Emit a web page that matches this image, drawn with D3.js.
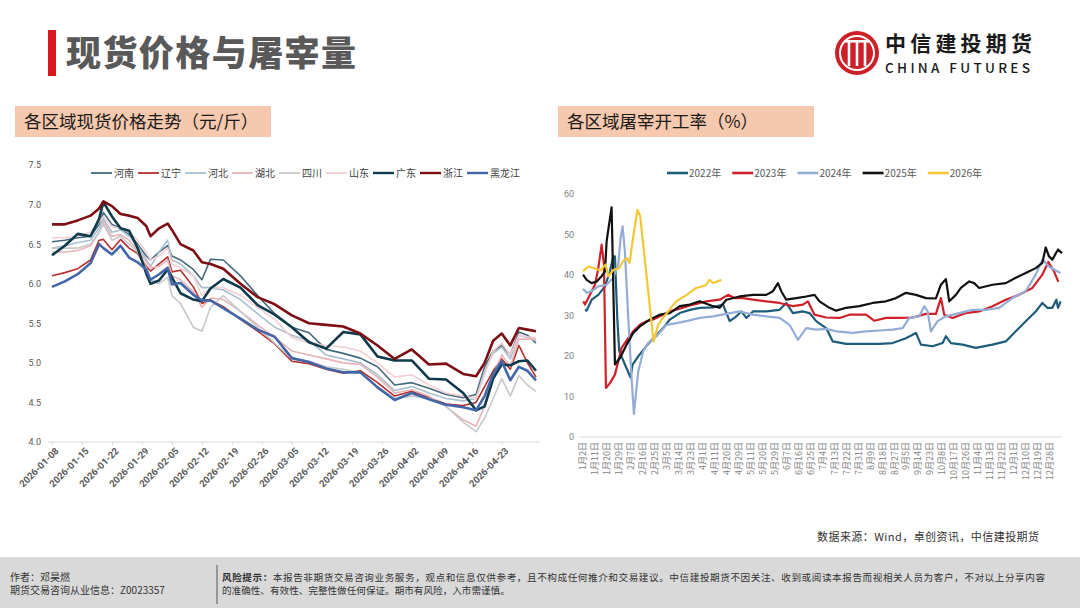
<!DOCTYPE html>
<html>
<head>
<meta charset="utf-8">
<script src="https://cdn.jsdelivr.net/npm/d3@7"></script>
<style>
  body { margin: 0; background: #fff; }
  svg { display: block; font-family: "Noto Sans CJK SC", "Noto Sans", sans-serif; }
</style>
</head>
<body>
<svg id="chart" width="1080" height="608"></svg>
<script>
// ---- left chart: spot prices by region (yuan / jin) ----
const priceDates = ["2026-01-08","2026-01-11","2026-01-14","2026-01-17","2026-01-19","2026-01-20","2026-01-22",
  "2026-01-24","2026-01-26","2026-01-28","2026-01-30","2026-01-31","2026-02-02","2026-02-04","2026-02-05",
  "2026-02-07","2026-02-10","2026-02-12","2026-02-14","2026-02-17","2026-02-21","2026-02-25","2026-03-01",
  "2026-03-05","2026-03-09","2026-03-13","2026-03-17","2026-03-21","2026-03-25","2026-03-29","2026-04-02",
  "2026-04-06","2026-04-10","2026-04-14","2026-04-17","2026-04-19","2026-04-21","2026-04-23","2026-04-25",
  "2026-04-27","2026-04-29","2026-05-01"];

const henan    = [6.53,6.55,6.58,6.60,6.75,6.90,6.75,6.70,6.62,6.50,6.35,6.30,6.40,6.48,6.35,6.30,6.18,6.05,6.31,6.30,6.10,5.85,5.62,5.45,5.38,5.17,5.12,5.06,4.95,4.72,4.75,4.68,4.60,4.56,4.60,4.95,5.15,5.22,5.10,5.39,5.35,5.25];
const liaoning = [6.10,6.14,6.19,6.30,6.55,6.56,6.43,6.56,6.45,6.38,6.22,6.16,6.25,6.34,6.15,6.17,5.96,5.75,5.79,5.71,5.55,5.40,5.24,5.02,4.99,4.92,4.87,4.90,4.75,4.58,4.64,4.56,4.48,4.46,4.50,4.70,4.90,5.05,4.92,5.22,5.00,4.82];
const hebei    = [6.45,6.48,6.52,6.55,6.70,6.82,6.65,6.68,6.60,6.48,6.30,6.22,6.40,6.55,6.30,6.25,6.10,5.95,5.95,5.92,5.80,5.62,5.45,5.35,5.28,5.10,5.05,5.00,4.85,4.65,4.70,4.62,4.55,4.52,4.55,4.90,5.12,5.20,5.05,5.35,5.32,5.28];
const hubei    = [6.40,6.40,6.42,6.48,6.65,6.78,6.60,6.62,6.55,6.42,6.28,6.20,6.22,6.30,6.10,6.05,5.90,5.70,5.82,5.80,5.65,5.48,5.32,5.15,5.10,5.05,5.00,4.98,4.82,4.62,4.66,4.58,4.45,4.28,4.20,4.45,4.85,5.10,4.95,5.30,5.30,5.30];
const sichuan  = [6.45,6.45,6.45,6.50,6.65,6.75,6.55,6.60,6.50,6.40,6.20,6.05,6.00,6.08,5.85,5.75,5.45,5.40,5.70,5.85,5.65,5.45,5.25,5.05,5.02,4.95,4.92,4.88,4.70,4.55,4.58,4.55,4.45,4.25,4.13,4.30,4.55,4.80,4.58,4.84,4.72,4.64];
const shandong = [6.58,6.58,6.60,6.65,6.78,6.85,6.72,6.70,6.65,6.55,6.40,6.30,6.35,6.45,6.25,6.20,6.10,5.85,5.95,5.95,5.85,5.70,5.55,5.32,5.25,5.22,5.20,5.15,5.00,4.82,4.85,4.72,4.62,4.58,4.55,4.85,5.15,5.25,5.10,5.35,5.33,5.32];
const guangdong= [6.36,6.48,6.63,6.60,6.82,7.03,6.85,6.70,6.67,6.45,6.13,6.00,6.04,6.18,6.08,5.88,5.80,5.78,5.94,6.06,5.95,5.73,5.61,5.45,5.26,5.18,5.39,5.36,5.08,5.03,5.03,4.80,4.79,4.62,4.40,4.45,4.80,4.98,4.97,5.02,5.03,4.90];
const zhejiang = [6.75,6.75,6.80,6.86,6.95,7.04,6.98,6.88,6.86,6.83,6.73,6.60,6.70,6.76,6.68,6.50,6.42,6.27,6.25,6.19,6.00,5.83,5.74,5.60,5.50,5.48,5.46,5.37,5.22,5.05,5.17,4.98,4.99,4.86,4.83,5.00,5.28,5.37,5.22,5.44,5.42,5.40];
const heilongjiang = [5.96,6.03,6.12,6.26,6.50,6.45,6.37,6.48,6.33,6.27,6.18,6.05,6.12,6.20,5.99,6.01,5.86,5.79,5.79,5.69,5.56,5.42,5.33,5.06,5.01,4.93,4.88,4.88,4.69,4.53,4.62,4.54,4.47,4.44,4.40,4.58,4.86,5.02,4.78,4.95,4.90,4.78];

const regionNames = ["河南","辽宁","河北","湖北","四川","山东","广东","浙江","黑龙江"];
const priceTickLabels = ["2026-01-08","2026-01-15","2026-01-22","2026-01-29","2026-02-05","2026-02-12","2026-02-19",
  "2026-02-26","2026-03-05","2026-03-12","2026-03-19","2026-03-26","2026-04-02","2026-04-09","2026-04-16","2026-04-23"];
const priceYTicks = [4.0,4.5,5.0,5.5,6.0,6.5,7.0,7.5];

// ---- right chart: slaughter operating rate (%) by year, [category index, value] ----
const rate2022 = [[1.5,31.4],[2.75,31.2],[6.5,33.9],[11.5,35.1],[16.5,37.2],[20.25,40.9],[22.75,44.6],[24,44.6],[25.75,29.4],[27.25,21.2],[31.5,17.9],[35.75,14.7],[37.25,17.9],[41.5,19.9],[46.5,22.0],[52.75,24.4],[60.25,26.9],[65.25,29.0],[72.75,30.6],[80.25,31.4],[87.75,31.9],[97.75,32.0],[105.25,32.7],[110.25,28.6],[115.25,29.8],[119,31.0],[122.75,29.4],[127.75,31.0],[137.75,31.0],[147.75,31.4],[152.75,33.1],[157.75,30.6],[165.25,31.0],[170.25,30.6],[175.25,28.6],[182.75,26.9],[187.75,23.6],[197.75,23.0],[207.75,23.0],[222.75,23.0],[232.75,23.2],[242.75,24.4],[250.25,25.7],[254,22.8],[262.75,22.4],[270.25,23.2],[272.75,24.9],[276.5,23.2],[285.25,22.8],[295.25,22.0],[307.75,22.8],[317.75,23.6],[325.25,26.1],[332.75,28.6],[340.25,31.0],[345.25,33.1],[349,31.9],[352.75,31.9],[355.75,33.9],[357,31.9],[359,33.5]];
const rate2023 = [[0.25,33.5],[1.5,32.7],[5.25,35.1],[9,37.6],[11.5,41.7],[14,47.5],[15.75,42.6],[17.25,12.1],[20.25,13.3],[24,15.4],[29,22.0],[34,24.4],[37.75,26.1],[42.75,27.7],[47.75,28.6],[52.75,29.0],[57.75,29.8],[65.25,31.0],[72.75,31.7],[82.75,32.7],[92.75,33.5],[102.75,33.9],[109,35.1],[114,34.3],[120.25,34.3],[127.75,33.9],[137.75,33.5],[147.75,33.1],[157.75,32.3],[165.25,32.7],[169,33.5],[174,30.2],[182.75,29.5],[192.75,29.4],[200.25,30.2],[212.75,30.2],[219,28.7],[227.75,29.4],[237.75,29.4],[247.75,29.5],[257.75,30.4],[265.25,30.4],[269,34.3],[271.5,30.2],[277.75,29.4],[287.75,30.6],[297.75,31.0],[307.75,32.3],[317.75,33.9],[327.75,35.1],[337.75,36.8],[345.25,40.1],[349.75,43.2],[354,40.9],[357.25,38.3]];
const rate2024 = [[0,36.6],[2.75,35.6],[6.5,36.0],[11.5,37.2],[17.75,37.6],[22.75,39.3],[26.5,42.6],[28.25,49.1],[29.75,52.0],[31.5,45.8],[34,29.4],[36.5,14.6],[38.25,5.7],[41.5,16.2],[45.25,21.2],[49,23.2],[55.25,24.9],[62.75,27.7],[70.25,28.1],[77.75,28.6],[87.75,29.4],[97.75,29.8],[107.75,30.4],[117.75,31.0],[127.75,30.2],[137.75,29.8],[147.75,29.4],[155.25,27.7],[161.5,24.0],[167.75,26.9],[175.25,26.5],[182.75,26.7],[190.25,26.1],[202.75,25.7],[212.75,26.1],[222.75,26.3],[232.75,26.5],[240.25,26.9],[245.25,29.4],[252.75,29.8],[256.5,32.3],[259,31.0],[261.5,26.1],[266.5,28.6],[272.75,29.8],[282.75,30.6],[292.75,31.4],[302.75,31.4],[312.75,31.9],[322.75,34.3],[332.75,36.0],[340.25,40.1],[345.25,43.8],[350.25,42.1],[355.25,41.1],[359,40.5]];
const rate2025 = [[0,40.1],[2.75,38.8],[6.5,38.0],[10.25,38.4],[14,39.7],[16.5,40.9],[17.75,48.3],[19.75,52.8],[21.5,56.7],[22.75,37.6],[24,17.9],[27.75,19.5],[32.75,22.8],[37.75,25.7],[42.75,27.3],[50.25,29.0],[57.75,30.2],[65.25,30.6],[72.75,32.3],[80.25,32.7],[87.75,33.5],[97.75,32.3],[102.75,31.9],[107.75,33.9],[117.75,34.7],[127.75,35.1],[137.75,35.1],[142.75,36.0],[146.5,38.0],[149,36.0],[152.75,33.9],[160.25,34.3],[167.75,34.7],[174,35.1],[177.75,33.5],[185.25,31.9],[190.25,31.2],[197.75,31.9],[207.75,32.3],[217.75,33.1],[227.75,33.5],[235.25,34.3],[242.75,35.6],[250.25,35.1],[257.75,34.3],[265.25,34.2],[269,37.6],[272.75,39.0],[275.25,33.5],[280.25,35.1],[284,36.8],[290.25,38.4],[294,38.0],[297.75,36.8],[307.75,37.6],[317.75,38.0],[325.25,39.3],[332.75,40.5],[340.25,41.7],[345.25,43.0],[347.75,46.8],[350.25,44.6],[352.75,43.8],[357,46.3],[360,45.4]];
const rate2026 = [[0,40.9],[4,42.1],[9,41.6],[13,41.1],[17,42.6],[19,39.7],[23,41.3],[27,41.6],[30,43.4],[33,44.2],[35,43.0],[38,50.0],[41,56.1],[43,54.5],[53,23.6],[56.5,27.7],[60,29.4],[65,31.4],[70,33.5],[78,35.1],[85,36.8],[92,37.4],[95,38.8],[98,38.0],[104,38.8]];

const yearNames = ["2022年","2023年","2024年","2025年","2026年"];
const rateCatLabels = ["1月2日","1月11日","1月20日","1月29日","2月7日","2月16日","2月25日","3月5日","3月14日","3月23日",
  "4月1日","4月11日","4月20日","4月29日","5月11日","5月20日","5月29日","6月7日","6月16日","6月25日",
  "7月4日","7月13日","7月22日","7月31日","8月9日","8月18日","8月27日","9月5日","9月14日","9月23日",
  "10月8日","10月17日","10月26日","11月4日","11月13日","11月22日","12月1日","12月10日","12月19日","12月28日"];
const rateYTicks = [0,10,20,30,40,50,60];

const svg = d3.select('#chart');

// ---- page header ----
svg.append('rect').attr('x', 48).attr('y', 30).attr('width', 8).attr('height', 46).style('fill', '#D7191F');
svg.append('text').attr('x', 66).attr('y', 66).text('现货价格与屠宰量')
  .attr('textLength', 290).style('font-size', '35px').style('font-weight', 900).style('fill', '#595959');

// logo
const logo = svg.append('g');
logo.append('circle').attr('cx', 857).attr('cy', 53).attr('r', 22).style('fill', '#CC1F26');
logo.append('circle').attr('cx', 857).attr('cy', 53).attr('r', 17).style('fill', 'none')
  .style('stroke', '#fff').style('stroke-width', 2);
[849, 857, 865].forEach(x => {
  logo.append('rect').attr('x', x - 1.3).attr('y', 41).attr('width', 2.6).attr('height', 25).style('fill', '#fff');
});
logo.append('rect').attr('x', 845).attr('y', 40).attr('width', 24).attr('height', 2.6).style('fill', '#fff');
svg.append('text').attr('x', 885).attr('y', 51).text('中信建投期货')
  .attr('textLength', 147).style('font-size', '21px').style('font-weight', 700).style('fill', '#1a1a1a');
svg.append('text').attr('x', 885).attr('y', 73).text('CHINA FUTURES')
  .attr('textLength', 145).style('font-size', '13.5px').style('font-weight', 500).style('fill', '#1a1a1a');

// section title boxes
[[15, '各区域现货价格走势（元/斤）'], [558, '各区域屠宰开工率（%）']].forEach(([x, t]) => {
  svg.append('rect').attr('x', x).attr('y', 106).attr('width', 256).attr('height', 31).style('fill', '#F6C8AE');
  svg.append('text').attr('x', x + 9).attr('y', 128).text(t)
    .style('font-size', '17.5px').style('fill', '#1a1a1a');
});

// ---- left chart ----
const parse = d3.timeParse('%Y-%m-%d');
const priceX = d3.scaleTime().domain([parse('2026-01-08'), parse('2026-05-01')]).range([52, 536]);
const priceY = d3.scaleLinear().domain([4, 7.5]).range([442, 165]);

const left = svg.append('g');
left.append('line').attr('x1', 48).attr('x2', 540).attr('y1', 442).attr('y2', 442)
  .style('stroke', '#D9D9D9').style('stroke-width', 1);

const yAxisL = left.append('g').attr('transform', 'translate(44,0)')
  .call(d3.axisLeft(priceY).tickValues(priceYTicks).tickFormat(d3.format('.1f')).tickSize(0).tickPadding(3));
yAxisL.select('.domain').remove();
yAxisL.selectAll('text').style('font-size', '9px').style('fill', '#595959').style('font-family', 'Roboto, sans-serif');

const xAxisL = left.append('g').attr('transform', 'translate(0,442)')
  .call(d3.axisBottom(priceX).tickValues(priceTickLabels.map(parse))
    .tickFormat(d3.timeFormat('%Y-%m-%d')).tickSize(3));
xAxisL.select('.domain').remove();
xAxisL.selectAll('line').style('stroke', '#D9D9D9');
xAxisL.selectAll('text')
  .attr('transform', 'rotate(-45)').attr('text-anchor', 'end')
  .attr('dx', '-0.2em').attr('dy', '0.6em')
  .style('font-size', '9.5px').style('font-weight', 700).style('fill', '#595959')
  .style('font-family', 'Roboto, sans-serif');

const priceSeries = [henan, liaoning, hebei, hubei, sichuan, shandong, guangdong, zhejiang, heilongjiang];
const priceColors = ['#44697D', '#B5302F', '#A9BFD0', '#E8B4B8', '#C6CACD', '#F2CFD2', '#0F3A4C', '#7D0F14', '#4366A8'];
const priceWidths = [1.6, 1.6, 1.6, 1.6, 1.6, 1.6, 2.6, 2.6, 2.6];
const priceLine = d3.line().x((d, i) => priceX(parse(priceDates[i]))).y(d => priceY(d));

priceSeries.forEach((s, k) => {
  left.append('path').datum(s).attr('d', priceLine)
    .style('fill', 'none').style('stroke', priceColors[k]).style('stroke-width', priceWidths[k])
    .style('stroke-linejoin', 'round');
});

// legend
let lx = 91;
regionNames.forEach((name, k) => {
  left.append('line').attr('x1', lx).attr('x2', lx + 21).attr('y1', 173).attr('y2', 173)
    .style('stroke', priceColors[k]).style('stroke-width', priceWidths[k] > 2 ? 2.4 : 1.8);
  const t = left.append('text').attr('x', lx + 23).attr('y', 176.5).text(name)
    .style('font-size', '10px').style('fill', '#404040');
  lx += 23 + t.node().getComputedTextLength() + 4;
});

// ---- right chart ----
const rateX = d3.scaleLinear().domain([0, 360]).range([583, 1062]);
const rateY = d3.scaleLinear().domain([0, 60]).range([437, 194]);

const right = svg.append('g');
right.append('line').attr('x1', 580).attr('x2', 1062).attr('y1', 437).attr('y2', 437)
  .style('stroke', '#D9D9D9').style('stroke-width', 1);

const yAxisR = right.append('g').attr('transform', 'translate(577,0)')
  .call(d3.axisLeft(rateY).tickValues(rateYTicks).tickSize(0).tickPadding(3));
yAxisR.select('.domain').remove();
yAxisR.selectAll('text').style('font-size', '9px').style('fill', '#7F7F7F').style('font-family', 'Roboto, sans-serif');

right.selectAll('.cat-label')
  .data(rateCatLabels)
  .enter()
  .append('text')
  .attr('class', 'cat-label')
  .attr('transform', (d, i) => `translate(${rateX(i * 9)},442) rotate(-90)`)
  .attr('text-anchor', 'end').attr('dy', '0.35em')
  .style('font-size', '9px').style('fill', '#7F7F7F')
  .text(d => d);

const rateSeries = [rate2022, rate2023, rate2024, rate2025, rate2026];
const rateColors = ['#1F5C7A', '#D0212B', '#94ADD6', '#111111', '#F2C836'];
const rateLine = d3.line().x(d => rateX(d[0])).y(d => rateY(d[1]));

rateSeries.forEach((s, k) => {
  right.append('path').datum(s).attr('d', rateLine)
    .style('fill', 'none').style('stroke', rateColors[k]).style('stroke-width', 2.2)
    .style('stroke-linejoin', 'round');
});

let rx = 667;
yearNames.forEach((name, k) => {
  right.append('line').attr('x1', rx).attr('x2', rx + 21).attr('y1', 173).attr('y2', 173)
    .style('stroke', rateColors[k]).style('stroke-width', 2.6);
  const t = right.append('text').attr('x', rx + 22).attr('y', 176.5).text(name)
    .style('font-size', '10px').style('fill', '#595959');
  rx += 22 + t.node().getComputedTextLength() + 11;
});

svg.append('text').attr('x', 817).attr('y', 541).text('数据来源：Wind，卓创资讯，中信建投期货')
  .attr('textLength', 222).style('font-size', '11px').style('fill', '#333');

// ---- footer ----
svg.append('rect').attr('x', 0).attr('y', 557).attr('width', 1080).attr('height', 51).style('fill', '#D9D9D9');
svg.append('text').attr('x', 10).attr('y', 581).text('作者：邓昊燃')
  .style('font-size', '10px').style('fill', '#333');
svg.append('text').attr('x', 10).attr('y', 594).text('期货交易咨询从业信息：Z0023357')
  .style('font-size', '10px').style('fill', '#333');
svg.append('line').attr('x1', 217).attr('x2', 217).attr('y1', 565).attr('y2', 604)
  .style('stroke', '#555').style('stroke-width', 1);
const risk1 = svg.append('text').attr('x', 222).attr('y', 581)
  .attr('textLength', 823).style('font-size', '9.6px').style('fill', '#333');
risk1.append('tspan').text('风险提示：').style('font-weight', 700);
risk1.append('tspan').text('本报告非期货交易咨询业务服务，观点和信息仅供参考，且不构成任何推介和交易建议。中信建投期货不因关注、收到或阅读本报告而视相关人员为客户，不对以上分享内容');
svg.append('text').attr('x', 222).attr('y', 594)
  .text('的准确性、有效性、完整性做任何保证。期市有风险，入市需谨慎。')
  .style('font-size', '9.6px').style('fill', '#333');
</script>
</body>
</html>
